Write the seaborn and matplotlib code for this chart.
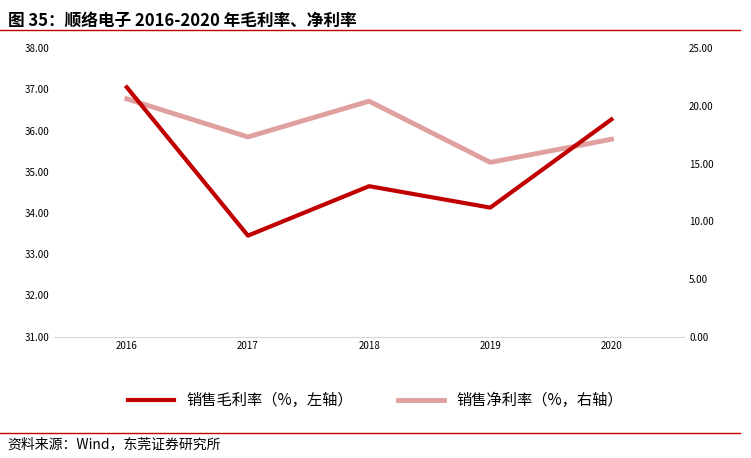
import matplotlib
matplotlib.use("Agg")
import matplotlib.pyplot as plt
import seaborn as sns
import pandas as pd
from matplotlib.lines import Line2D

plt.rcParams["font.family"] = ["Noto Sans CJK SC", "DejaVu Sans"]

years = ["2016", "2017", "2018", "2019", "2020"]
gross_margin = [37.05, 33.45, 34.65, 34.13, 36.27]
net_margin = [20.6, 17.3, 20.4, 15.1, 17.1]

df = pd.DataFrame({"year": years, "x": range(len(years)),
                   "gross": gross_margin, "net": net_margin})

c_gross = "#c00000"
c_net = "#e0a0a0"

fig = plt.figure(figsize=(7.51, 4.58), dpi=100)
ax = fig.add_axes([0.072, 0.265, 0.839, 0.63])
ax2 = ax.twinx()

sns.lineplot(data=df, x="x", y="net", ax=ax2, color=c_net, linewidth=3.5)
sns.lineplot(data=df, x="x", y="gross", ax=ax, color=c_gross, linewidth=3)
ax.set_zorder(ax2.get_zorder() + 1)
ax.patch.set_visible(False)

ax.set_ylim(31, 38)
ax.set_yticks([31 + i for i in range(8)])
ax.set_yticklabels([f"{31 + i:.2f}" for i in range(8)])
ax2.set_ylim(0, 25)
ax2.set_yticks([0, 5, 10, 15, 20, 25])
ax2.set_yticklabels([f"{v:.2f}" for v in [0, 5, 10, 15, 20, 25]])
ax.set_xlim(-0.6, 4.6)
ax.set_xticks(df["x"])
ax.set_xticklabels(years)
for a in (ax, ax2):
    a.set_xlabel("")
    a.set_ylabel("")
    a.tick_params(length=0, labelsize=7)
    for s in a.spines.values():
        s.set_visible(False)
ax.spines["bottom"].set_visible(True)
ax.spines["bottom"].set_color("#d9d9d9")

handles = [Line2D([], [], color=c_gross, lw=3), Line2D([], [], color=c_net, lw=3.5)]
fig.legend(handles, ["销售毛利率（%，左轴）", "销售净利率（%，右轴）"], loc="center",
           bbox_to_anchor=(0.5, 0.125), ncol=2, frameon=False, fontsize=11,
           handlelength=3, columnspacing=3)

fig.text(0.01, 0.975, "图 35：顺络电子 2016-2020 年毛利率、净利率", fontsize=12,
         va="top", fontweight="bold")
fig.add_artist(Line2D([0.0, 0.985], [0.935, 0.935], color=c_gross, lw=1))
fig.add_artist(Line2D([0.0, 0.985], [0.055, 0.055], color=c_gross, lw=1))
fig.text(0.01, 0.045, "资料来源：Wind，东莞证券研究所", fontsize=10, va="top")

fig.savefig("out.png", dpi=100)
